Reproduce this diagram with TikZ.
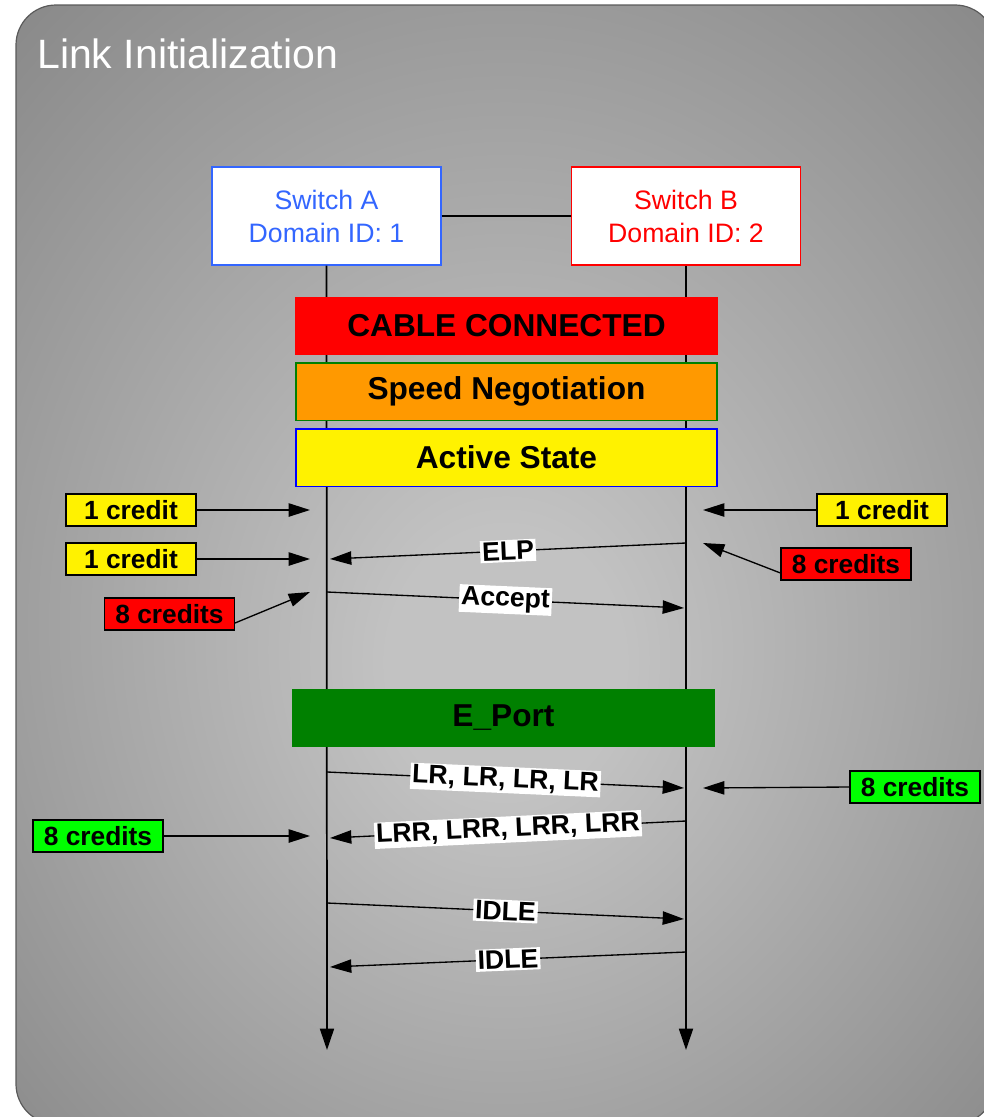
\documentclass[tikz,border=0pt]{standalone}
\usepackage{fontspec}
\setmainfont{Liberation Sans}
\usetikzlibrary{arrows.meta,calc}

\definecolor{bgLight}{HTML}{C2C2C2}
\definecolor{bgDark}{HTML}{868686}
\definecolor{frameLine}{HTML}{5A5A5A}
\definecolor{swAcol}{HTML}{3366FF}
\definecolor{swBcol}{HTML}{FF0000}
\definecolor{orangeBar}{HTML}{FF9900}
\definecolor{greenBar}{HTML}{008000}
\definecolor{limeBox}{HTML}{00FF00}

% soft light glow in the middle of the panel
\pgfdeclareradialshading{panelglow}{\pgfpoint{0bp}{-5bp}}{%
  color(0bp)=(bgLight); color(6bp)=(bgLight); color(38bp)=(bgDark); color(50bp)=(bgDark)}

\tikzset{
  swbox/.style={draw, fill=white, line width=1pt, minimum width=171.75pt,
    minimum height=73.5pt, align=center, inner sep=0pt,
    font=\fontsize{20}{24.75}\selectfont},
  phase/.style={line width=1pt, minimum width=315.75pt, minimum height=43pt,
    inner sep=0pt, font=\bfseries\fontsize{23.75}{28}\selectfont},
  credit/.style={draw=black, line width=0.8pt, minimum width=97.5pt,
    minimum height=24pt, inner sep=0pt,
    font=\bfseries\fontsize{19.75}{22}\selectfont},
  msglabel/.style={fill=white, inner sep=1.4pt, sloped,
    font=\bfseries\fontsize{20}{22}\selectfont},
  arr/.style={-{Triangle[length=16pt,width=10pt]}, line width=1pt},
  life/.style={-{Triangle[length=16pt,width=10.5pt]}, line width=1.3pt},
}

\begin{document}
\begin{tikzpicture}[x=0.75pt, y=-0.75pt]
  \useasboundingbox (0,0) rectangle (984,1117);

  % panel
  \path[shading=panelglow, rounded corners=30pt]
    (16,5) rectangle (995,1124);
  \draw[frameLine, line width=0.9pt, rounded corners=30pt]
    (16,5) rectangle (995,1124);

  \node[anchor=base west, text=white, inner sep=0pt,
        font=\fontsize{30.75}{36}\selectfont] (title) at (37,68)
    {Link Initialization};

  % the two switches
  \node[swbox, draw=swAcol, text=swAcol] (swA) at (326.5,216)
    {Switch A\\Domain ID: 1};
  \node[swbox, draw=swBcol, text=swBcol] (swB) at (686,216)
    {Switch B\\Domain ID: 2};
  \draw[line width=1pt] (swA.east) -- (swB.west);

  % lifelines
  \coordinate (endA) at (327,1050);
  \coordinate (endB) at (686,1050);
  \draw[life] (swA.south) -- (endA);
  \draw[life] (swB.south -| endB) -- (endB);

  % phases of the link
  \node[phase, fill=red, draw=red] (cable) at (506.5,326) {CABLE CONNECTED};
  \node[phase, fill=orangeBar, draw=greenBar] (speed) at (506.5,391.5)
    {Speed Negotiation};
  \node[phase, fill=yellow, draw=blue] (active) at (506.5,457.5)
    {Active State};
  \node[phase, fill=greenBar, draw=greenBar] (eport) at (503.5,718) {E\_Port};

  % buffer credits
  \node[credit, fill=yellow] (c1L) at (131,510) {1 credit};
  \node[credit, fill=yellow] (c2L) at (131,559) {1 credit};
  \node[credit, fill=red] (c8L) at (169.5,614) {8 credits};
  \node[credit, fill=yellow] (c1R) at (882,510) {1 credit};
  \node[credit, fill=red] (c8R) at (846,564) {8 credits};
  \node[credit, fill=limeBox] (g8R) at (915,787) {8 credits};
  \node[credit, fill=limeBox] (g8L) at (98,836) {8 credits};

  \coordinate (tc1L) at (310,510);
  \coordinate (tc2L) at (310,559);
  \coordinate (tc8L) at (310,592);
  \coordinate (tc1R) at (703,510);
  \coordinate (tc8R) at (703,543);
  \coordinate (tg8R) at (703,788);
  \coordinate (tg8L) at (310,836);

  \draw[arr] (c1L.east) -- (tc1L);
  \draw[arr] (c2L.east) -- (tc2L);
  \draw[arr] ($(c8L.east)+(0,9)$) -- (tc8L);
  \draw[arr] (c1R.west) -- (tc1R);
  \draw[arr] ($(c8R.west)+(0,9)$) -- (tc8R);
  \draw[arr] (g8R.west) -- (tg8R);
  \draw[arr] (g8L.east) -- (tg8L);

  % frames exchanged between the switches
  \coordinate (elpS) at (686,543);  \coordinate (elpE) at (330,559);
  \coordinate (accS) at (327,592);  \coordinate (accE) at (684,608);
  \coordinate (lrS) at (327,772);   \coordinate (lrE) at (684,788);
  \coordinate (lrrS) at (686,821);  \coordinate (lrrE) at (330,838);
  \coordinate (idAS) at (327,903);  \coordinate (idAE) at (684,919);
  \coordinate (idBS) at (686,952);  \coordinate (idBE) at (330,967);

  \draw[arr] (elpS) -- node[msglabel] (elp) {ELP} (elpE);
  \draw[arr] (accS) -- node[msglabel] (acc) {Accept} (accE);
  \draw[arr] (lrS) -- node[msglabel] (lr) {LR, LR, LR, LR} (lrE);
  \draw[arr] (lrrS) -- node[msglabel] (lrr) {LRR, LRR, LRR, LRR} (lrrE);
  \draw[arr] (idAS) -- node[msglabel] (idleA) {IDLE} (idAE);
  \draw[arr] (idBS) -- node[msglabel] (idleB) {IDLE} (idBE);
\end{tikzpicture}
\end{document}
